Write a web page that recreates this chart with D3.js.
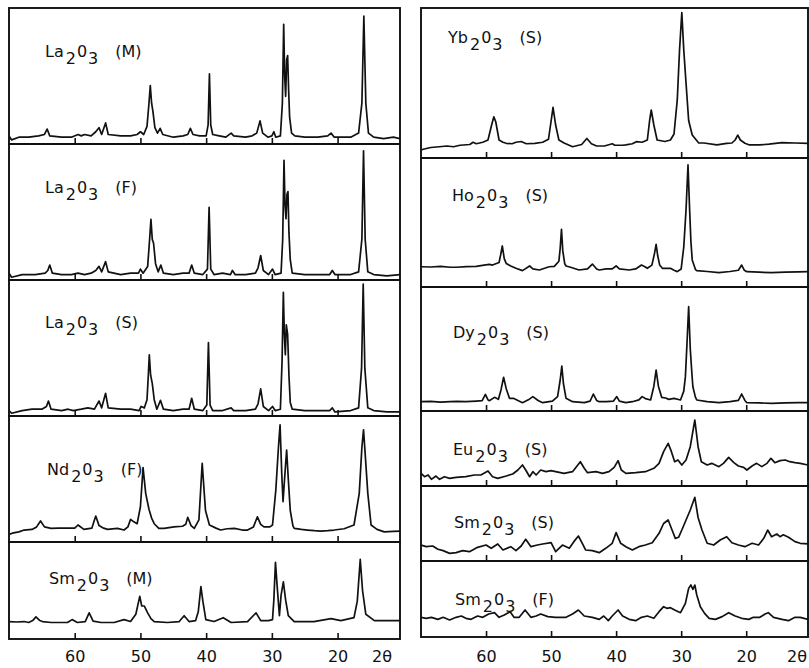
<!DOCTYPE html>
<html><head><meta charset="utf-8">
<script src="https://cdn.jsdelivr.net/npm/d3@7"></script>
<style>body{margin:0;background:#fff;} svg{display:block;}</style>
</head><body>
<script>
// ---------- DATA: [2θ (deg), relative intensity (% of panel height)] ----------
const laM = [[70,6],[69.6,3],[68.5,5],[67,5],[65.5,6],[64.6,7],[64.2,11],[63.8,6],[62,5],[60.5,5],[59.5,7],[59,6],[58.5,7],[57.5,6],[56.8,9],[56.3,12],[55.9,7],[55.3,15.5],[54.9,7],[53,6],[51.5,6],[50.5,7],[50,9],[49.5,7],[49,13],[48.7,30],[48.5,43],[48.3,30],[48.1,24],[47.8,12],[47.4,8],[47,11.5],[46.6,7],[45,5],[43.5,6],[42.8,7],[42.4,11.5],[42,7],[41,6],[40,6],[39.7,14],[39.5,51.5],[39.3,14],[39,7],[38,6],[37,5],[36.2,8],[35.8,6],[34,5],[33,6],[32.3,8],[31.8,17],[31.4,8],[30.6,5],[30,6],[29.7,9],[29.4,5],[28.7,6],[28.4,30],[28.2,88],[28.05,50],[27.9,35],[27.75,62],[27.6,65],[27.45,40],[27.3,20],[27,8],[26.5,6],[25,5],[23,5],[21.5,6],[21,8],[20.5,5],[18,5],[16.8,8],[16.3,30],[16.0,94],[15.7,30],[15.3,8],[14.5,5],[13,4],[11.5,5],[10.5,4]];
const laF = [[70,5],[69.6,2],[68,4],[66,4],[64.5,5],[64.1,7],[63.8,11],[63.4,5],[62,4],[60.5,4],[59.5,5],[58.5,4],[57.5,5],[56.8,7],[56.3,10],[55.9,6],[55.3,13.5],[54.9,6],[53,4],[51.5,5],[50.3,5],[50,8],[49.6,5],[48.9,10],[48.6,30],[48.4,44.6],[48.2,30],[48.0,27],[47.7,12],[47.3,6],[46.9,11],[46.5,5],[45,4],[43.5,5],[42.6,5],[42.2,11],[41.8,5],[40.5,4],[39.8,8],[39.55,53.5],[39.3,8],[38.8,4],[37.5,5],[36.3,4],[36.0,7],[35.6,4],[34,4],[32.5,5],[32.1,9],[31.7,18],[31.3,7],[30.5,4],[29.9,8],[29.5,4],[28.6,5],[28.35,30],[28.15,88],[28.0,55],[27.85,45],[27.7,63],[27.55,65],[27.4,35],[27.2,15],[26.9,5],[25,4],[23,4],[21.2,4],[20.8,7],[20.4,4],[18,4],[16.8,6],[16.3,30],[16.05,95],[15.8,30],[15.4,6],[14.5,4],[12.5,3],[10.5,4]];
const laS = [[70,4],[69.6,2],[68,4],[66.5,5],[65,5],[64.3,7],[64.0,11],[63.6,5],[62,4],[61,5],[60.2,4],[59,5],[58,6],[57,5],[56.3,11],[55.9,6],[55.3,16.7],[54.9,6],[53,5],[51.5,5],[50.2,4],[49.9,7],[49.4,6],[49,12],[48.8,30],[48.65,45],[48.45,30],[48.2,24],[47.9,12],[47.5,5],[46.95,11.5],[46.5,5],[45,4],[43.5,5],[42.6,5],[42.2,13],[41.8,5],[40.5,4],[39.9,8],[39.65,54],[39.4,8],[39,4],[37.5,4],[36.2,6],[35.8,4],[34,4],[32.5,5],[32.1,9],[31.7,20],[31.3,7],[30.5,4],[29.9,7],[29.5,4],[28.7,5],[28.45,40],[28.25,91],[28.1,60],[27.95,45],[27.8,67],[27.6,60],[27.4,30],[27.2,10],[26.9,5],[25,4],[23,4],[21.2,4],[20.8,6],[20.4,3],[18,4],[16.8,6],[16.35,35],[16.1,97],[15.85,35],[15.4,6],[14.5,4],[12.5,3],[10.5,3]];
const ndF = [[70,6],[69.5,7],[68.5,8],[67.7,9.5],[66.5,10],[65.8,12],[65.2,16.7],[64.6,12],[63.6,10.8],[62.5,11],[61.1,11],[60,11],[59.5,13.5],[58.6,10],[57.4,11],[56.8,20.6],[56.3,13],[55.6,11],[55.0,10],[53.5,10.8],[52.5,9.5],[51.9,12],[51.5,18],[51.0,16],[50.5,14.5],[50.0,28],[49.6,59],[49.2,38.6],[48.7,26],[48.3,19],[47.9,14.5],[47.2,10.8],[46.4,10.8],[44.9,12],[43.6,12.5],[43.1,14],[42.8,19.6],[42.3,13],[41.8,10.8],[41.1,17.5],[40.6,62.4],[40.1,25],[39.5,13.5],[38.5,11],[37.8,9.5],[36.8,10.5],[35.7,10.8],[34.5,9.5],[33.7,9.5],[32.8,12],[32.2,20],[31.7,14],[31.2,12],[30.3,12],[29.9,13.5],[29.4,41],[29.0,75],[28.75,93],[28.5,55],[28.3,32],[28.0,55],[27.75,73],[27.5,50],[27.2,25],[26.8,13],[26.6,10.8],[25.5,10],[24.6,9.5],[23.5,9],[22.6,8.7],[21.5,9],[20.5,9.5],[19,10.5],[17.5,13.5],[16.7,38.6],[16.3,75],[16.05,89],[15.8,70],[15.4,38.6],[14.9,13.5],[14,10],[12.9,8],[11.5,8.5],[10.5,8.7]];
const smM = [[70,18],[68.8,17.5],[67.7,18],[67.0,17],[66.4,19],[65.9,22.8],[65.3,19],[64.9,18],[63.6,17],[62.3,17],[61.1,17],[60.4,20],[59.6,17],[58.4,18],[57.8,27],[57.2,18.5],[56,17],[54,17],[52.5,20],[51.5,18],[50.7,25.5],[50.1,44],[49.8,34],[49.4,34],[48.9,27],[48.4,21],[47.9,18],[45.9,17],[44.1,18],[43.35,24],[42.6,18],[41.6,19],[41.2,28],[40.8,54],[40.5,39],[40.05,20],[38.8,18],[37.4,22],[36.2,17],[33.7,18],[32.4,27],[31.7,19],[30.5,19],[29.9,20],[29.7,40],[29.45,79],[29.2,55],[28.85,24],[28.6,45],[28.25,59],[27.9,40],[27.5,24],[26.6,18],[23.6,18],[21.0,21],[19.5,19],[17.5,22],[17.0,39],[16.55,82],[16.2,50],[15.7,25.5],[14.4,19],[12.4,19],[10.5,19]];
const ybS = [[70,5.3],[69.5,6],[68.5,7],[67.2,7.5],[66,8],[65,7.5],[64,8.5],[62.5,9],[62.0,10.5],[61.5,9.5],[60.5,10.5],[59.7,12],[59.2,21],[58.8,27.5],[58.5,24],[58.0,12],[57.4,10.5],[56.9,9.8],[56,9.5],[55.4,10.5],[54.6,11],[53.8,9.5],[52.5,9.8],[51.3,10.5],[50.4,12.5],[50.05,23],[49.7,33.8],[49.3,22],[48.8,12],[48.0,10],[46.7,7.5],[45.3,9],[44.5,13],[43.8,9.5],[43,8],[41.8,8],[40.6,9.5],[40.2,8.5],[39,8.5],[38.5,8.7],[37.5,9.5],[36.9,10.9],[36,10.5],[35.2,12],[34.85,25],[34.6,32],[34.2,22],[33.7,12],[32.5,11],[31.65,12],[31.1,16],[30.6,38.7],[30.25,72],[29.9,96.9],[29.6,72],[29.25,49.8],[28.85,25],[28.3,15.3],[27.3,10],[26.5,10],[24.5,8.7],[23.0,9.8],[22.2,10],[21.7,12],[21.3,15.3],[20.9,12],[20.2,9.8],[19.5,8.7],[18,8.7],[16.5,9.2],[14.5,10.2],[12.5,10],[10.5,9.8]];
const hoS = [[70,15.7],[68.5,15.5],[67,16],[65.5,15.3],[64.6,15.3],[63,15.8],[61.5,16],[60.3,17],[59.5,17.5],[59.0,17],[58.0,19],[57.75,25],[57.5,31.8],[57.2,22],[56.9,18.3],[56.2,16.3],[55.4,14.5],[54.4,12.7],[53.3,16.3],[52.8,14],[51.8,13.2],[50.3,15.7],[49.5,16],[48.8,20],[48.6,30],[48.4,44.7],[48.2,28],[47.9,18],[47.7,16.3],[47.0,15.3],[45.7,13.2],[44.4,14],[43.65,17.8],[43.0,14],[42.6,13.2],[41.5,14],[40.6,14],[40.0,16.3],[39.5,14],[38.0,13.2],[37,14],[36.1,17],[35.5,15.5],[35.2,14.5],[34.5,17],[34.1,26],[33.85,33],[33.6,24],[33.3,17],[32.9,14.5],[32.2,14.5],[31.65,14.5],[31.1,13],[30.6,11.9],[30.0,14],[29.6,31],[29.25,60],[28.95,94.6],[28.7,60],[28.5,35],[28.3,21],[27.8,13.5],[27.6,12.7],[26,12],[24.2,11.1],[22.5,12],[21.2,13],[20.7,17],[20.3,13],[19.9,11.9],[18,11.5],[16.1,11.1],[14,11.5],[12,11.8],[10.5,11.9]];
const dyS = [[70,7.5],[68.5,7.8],[67,7.2],[65.5,7.5],[64.5,7.8],[63.1,7.5],[61.5,8],[60.6,8.3],[60.1,13.4],[59.7,9],[59.5,8.3],[58.7,11],[58.1,9.4],[57.7,17],[57.3,27.2],[56.9,18],[56.4,10.2],[55.8,10.2],[54.4,6.7],[53.5,9],[52.8,11.6],[52,8.5],[51.3,6.7],[49.8,8],[49.0,11.6],[48.6,25],[48.35,36.3],[48.1,22],[47.7,10.2],[46.7,7.5],[44.9,6.7],[44.0,8],[43.5,13.7],[43.0,8.5],[42.6,7.5],[41.5,7.5],[40.4,8],[39.9,11.6],[39.5,8],[38.5,6.7],[37.5,7.5],[36.5,9],[36.0,11.6],[35.5,10],[34.7,8.9],[34.2,20],[33.85,33],[33.5,20],[33.0,11],[32.4,10.5],[31.9,9.4],[31.1,10.2],[30.1,8.9],[29.6,16],[29.35,27.7],[29.1,55],[28.85,84.1],[28.6,50],[28.35,30],[28.2,19.6],[27.8,11],[27.6,8.9],[26,7.5],[24.2,6.7],[22.5,7.5],[21.2,8.5],[20.7,13.7],[20.2,8.5],[19.9,6.7],[18,6.5],[16.1,6.2],[14,6.5],[12,6.7],[10.5,6.7]];
const euS = [[70,16.9],[69.45,12.4],[68.9,14.7],[68.4,8.9],[67.7,13.3],[67.15,8.9],[66.4,12.4],[65.6,10.2],[64.6,11.6],[63.1,12.4],[61.8,14.7],[60.8,14.7],[59.7,20],[59.0,12.4],[58.2,10.2],[56.9,13.3],[55.9,16],[55.1,21.3],[54.4,28],[53.9,21.3],[53.3,12.4],[52.8,19.1],[52.3,14.7],[51.6,21.3],[50.8,19.1],[50.0,20.4],[49.3,19.1],[48.0,16.9],[46.7,19.1],[46.1,25.8],[45.5,32.4],[44.9,23.6],[44.4,17.8],[43.1,19.1],[42.1,16.9],[41.1,19.1],[40.3,24.9],[39.7,33.8],[39.2,21.3],[38.5,16.9],[37.0,17.8],[35.5,19.1],[34.2,23.6],[33.4,30.2],[32.7,45.8],[32.0,56.9],[31.5,45.8],[31.0,32.4],[30.5,34.7],[29.9,28],[29.25,34.7],[28.6,52.4],[27.9,88],[27.4,52.4],[26.9,32.4],[26.0,28],[25.3,30.2],[24.2,25.8],[23.5,30.2],[22.7,38.2],[21.9,31.1],[21.2,26.7],[20.4,24.9],[19.9,21.3],[19.1,26.7],[18.4,30.2],[17.6,25.8],[16.8,30.2],[16.2,36.9],[15.6,31.1],[14.8,33.8],[14.0,34.7],[13.3,32.4],[12.5,31.1],[11.7,30.2],[10.5,28]];
const smS = [[70,21.3],[69.2,19.1],[68.2,20],[67.4,15.6],[66.6,13.8],[65.6,10.2],[64.6,11.1],[63.6,13.8],[62.55,12.4],[61.3,18.2],[60.0,21.3],[59.2,16.9],[58.2,22.7],[57.4,14.7],[56.2,19.1],[55.4,13.8],[54.6,20],[53.9,28.9],[53.1,19.1],[52.1,21.3],[51.3,22.7],[50.0,24.4],[49.3,12.4],[48.25,21.3],[47.2,16.9],[46.5,25.8],[45.8,33.3],[45.2,23.6],[44.7,14.7],[43.65,13.8],[42.6,11.1],[41.6,16.9],[40.6,23.6],[40.0,37.8],[39.3,23.6],[38.5,19.1],[37.5,14.7],[36.5,19.1],[35.5,21.3],[34.45,24.4],[33.4,36.9],[32.7,50],[32.0,54.7],[31.4,41.3],[30.9,30.2],[30.4,31.6],[29.9,41.3],[29.25,54.7],[28.6,68],[27.9,84.9],[27.4,58],[26.8,41.3],[26.0,23.6],[25.0,21.3],[24.0,28],[23.0,32.4],[22.2,24.4],[21.2,21.3],[20.2,19.1],[19.1,23.6],[18.1,21.3],[17.3,30.2],[16.7,41.3],[16.1,32.4],[15.3,36],[14.8,32.4],[14.3,35],[13.5,31.6],[12.5,25.8],[11.7,23.6],[10.5,22.7]];
const smF = [[70,25.9],[69.2,24.6],[68.4,25.9],[67.4,23.2],[66.6,25.9],[65.6,22.4],[64.6,25.9],[63.8,27.6],[63.1,24.6],[62.3,23.2],[61.3,27.6],[60.5,25.9],[59.6,30.3],[58.7,32],[58.0,25.9],[57.2,28.9],[56.3,33.3],[55.7,25.9],[54.9,25.9],[54.0,35.5],[53.1,25.9],[52.3,27.6],[51.6,30.3],[50.5,26.8],[49.3,25.9],[47.7,25.9],[46.7,30.3],[45.8,35.5],[44.9,27.6],[43.65,25.9],[42.6,23.2],[41.9,27.6],[41.2,21.5],[40.6,27.6],[39.7,35.5],[39.0,27.6],[38.0,23.2],[37.0,21.5],[36.1,25.9],[35.2,27.6],[34.2,24.6],[33.4,33.3],[32.7,39.9],[32.2,37.7],[31.65,38.6],[31.0,35.5],[30.1,32],[29.35,44.3],[28.85,64],[28.5,68.4],[28.2,62.7],[27.9,68.4],[27.6,55.3],[27.05,39.9],[26.4,31.1],[25.7,24.6],[24.75,23.2],[23.7,26.8],[22.7,32],[21.7,27.6],[20.7,24.6],[19.6,23.2],[18.9,25.9],[17.9,25.9],[17.1,30.3],[16.6,32],[15.8,25.9],[14.5,23.2],[13.5,21.5],[12.5,25.9],[11.7,25.9],[10.5,23.2]];

const compounds = ["La","La","La","Nd","Sm","Yb","Ho","Dy","Eu","Sm","Sm"];
const methods   = ["M","F","S","F","M","S","S","S","S","S","F"];
const series    = [laM, laF, laS, ndF, smM, ybS, hoS, dyS, euS, smS, smF];
const tickValues = [60, 50, 40, 30, 20];
const xDomain = [70, 10.5];
const axisTitle = "2θ";

// ---------- LAYOUT ----------
const W = 809, H = 668;
const FONT = "DejaVu Sans, Verdana, sans-serif";
const FS = 16;
const labelBaseline = 662;
const columns = [
  { x0: 9,   x1: 400, bounds: [8,144,280,416,542,639],      idx: [0,1,2,3,4],
    labelX: [45,45,45,47,49],          labelY: [57,193,328,475,584],     titleX: 372, titleAnchor: "start" },
  { x0: 421, x1: 808, bounds: [8,158,287,411,486,561,637],  idx: [5,6,7,8,9,10],
    labelX: [448,452,453,453,454,455], labelY: [43,201,338,455,528,605], titleX: 807, titleAnchor: "end" }
];

const svg = d3.select("body").append("svg").attr("width", W).attr("height", H);
svg.append("rect").attr("width", W).attr("height", H).attr("fill", "#fff");
const defs = svg.append("defs");

function drawLabel(g, x, y, el, method) {
  const t = g.append("text").attr("x", x).attr("y", y)
    .attr("font-family", FONT).attr("font-size", FS).attr("fill", "#111");
  t.append("tspan").text(el);
  t.append("tspan").attr("dx", 2).attr("dy", 7).text("2");
  t.append("tspan").attr("dx", 1).attr("dy", -7).text("0");
  t.append("tspan").attr("dx", 1).attr("dy", 7).text("3");
  t.append("tspan").attr("dx", 17).attr("dy", -7).text("(" + method + ")");
}

columns.forEach((col) => {
  const x = d3.scaleLinear().domain(xDomain).range([col.x0, col.x1]);
  col.idx.forEach((si, k) => {
    const top = col.bounds[k], bottom = col.bounds[k + 1];
    const y = d3.scaleLinear().domain([0, 100]).range([bottom, top]);
    const g = svg.append("g");
    const cid = "clip" + si;
    defs.append("clipPath").attr("id", cid).append("rect")
      .attr("x", col.x0).attr("y", top).attr("width", col.x1 - col.x0).attr("height", bottom - top);

    const isLast = k === col.idx.length - 1;
    const pad = labelBaseline - bottom - 0.71 * FS;
    const axis = d3.axisBottom(x).tickValues(tickValues).tickSizeInner(-6).tickSizeOuter(0)
      .tickPadding(pad).tickFormat(isLast ? d3.format("d") : () => "");
    const ag = g.append("g").attr("transform", `translate(0,${bottom})`).call(axis);
    ag.select(".domain").remove();
    ag.selectAll(".tick line").attr("stroke", "#111").attr("stroke-width", 1.6);
    ag.selectAll(".tick text").attr("font-family", FONT).attr("font-size", FS).attr("fill", "#111");

    const line = d3.line().x(d => x(d[0])).y(d => y(d[1])).curve(d3.curveLinear);
    g.append("path").datum(series[si]).attr("d", line)
      .attr("clip-path", `url(#${cid})`)
      .attr("fill", "none").attr("stroke", "#111").attr("stroke-width", 1.7)
      .attr("stroke-linejoin", "round");

    g.append("rect").attr("x", col.x0).attr("y", top)
      .attr("width", col.x1 - col.x0).attr("height", bottom - top)
      .attr("fill", "none").attr("stroke", "#111").attr("stroke-width", 1.9);

    drawLabel(g, col.labelX[k], col.labelY[k], compounds[si], methods[si]);

    if (isLast) {
      g.append("text").attr("x", col.titleX).attr("y", labelBaseline)
        .attr("text-anchor", col.titleAnchor)
        .attr("font-family", FONT).attr("font-size", FS).attr("fill", "#111")
        .text(axisTitle);
    }
  });
});
</script>
</body></html>
